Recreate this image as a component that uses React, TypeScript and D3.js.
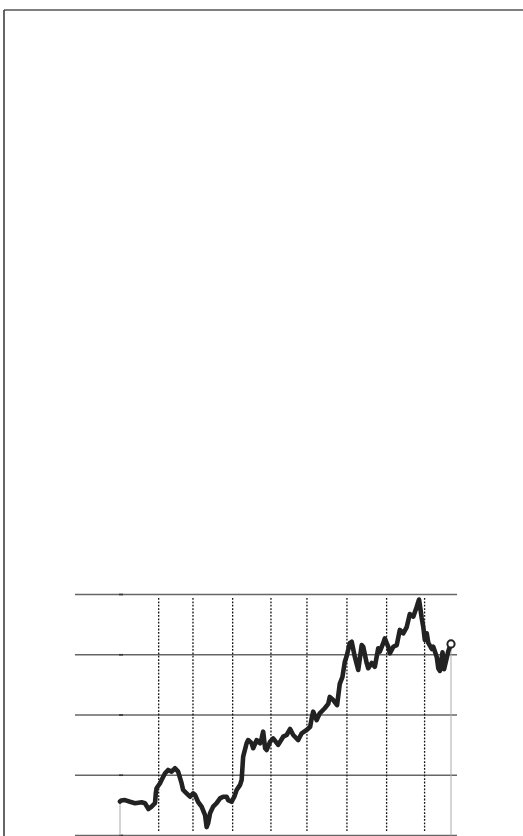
import React from "react";
import * as d3 from "d3";

// time in years since series start, value on a 0–100 scale
const times = [
  0, 0.03, 0.13, 0.26, 0.39, 0.48, 0.56, 0.65, 0.74, 0.82, 0.91, 0.93, 0.95, 1.04, 1.08, 1.17, 1.25, 1.34, 1.43, 1.51,
  1.6, 1.64, 1.73, 1.82, 1.9, 1.95, 2.03, 2.12, 2.21, 2.25, 2.29, 2.34, 2.42, 2.51, 2.6, 2.68, 2.77, 2.81, 2.9, 2.97,
  3.03, 3.12, 3.16, 3.2, 3.29, 3.33, 3.42, 3.46, 3.55, 3.64, 3.68, 3.72, 3.77, 3.81, 3.9, 3.98, 4.11, 4.24, 4.33, 4.42,
  4.5, 4.63, 4.72, 4.85, 4.94, 4.98, 5.02, 5.11, 5.19, 5.32, 5.41, 5.45, 5.54, 5.64, 5.71, 5.78, 5.84, 5.89, 5.97, 6.02,
  6.1, 6.19, 6.28, 6.32, 6.41, 6.45, 6.54, 6.62, 6.71, 6.75, 6.84, 6.88, 6.97, 7.01, 7.1, 7.19, 7.27, 7.36, 7.45, 7.53,
  7.62, 7.71, 7.77, 7.84, 7.88, 7.92, 7.97, 8.01, 8.1, 8.14, 8.23, 8.27, 8.31, 8.38, 8.42, 8.48, 8.53, 8.6,
];
const values = [
  14.1, 14.5, 14.7, 14.0, 13.4, 13.6, 13.8, 13.4, 11.0, 12.0, 13.4, 17.5, 19.6, 21.7, 23.0, 25.8, 27.2, 26.5, 27.9, 26.5,
  21.7, 18.9, 17.5, 16.1, 17.5, 16.8, 13.9, 12.0, 8.5, 3.5, 5.1, 9.2, 12.0, 13.4, 15.4, 16.1, 16.1, 14.7, 14.0, 16.1,
  18.9, 21.0, 23.0, 32.7, 38.3, 39.6, 38.3, 36.2, 39.6, 38.3, 40.3, 43.1, 36.2, 35.5, 38.9, 40.3, 37.6, 41.0, 41.7, 44.2,
  41.7, 39.6, 42.4, 43.8, 45.1, 48.6, 51.4, 47.9, 50.7, 52.8, 54.6, 57.5, 56.2, 54.1, 62.9, 65.8, 72.0, 74.5, 79.8, 80.4,
  74.2, 68.7, 79.0, 78.3, 71.5, 69.4, 71.6, 70.0, 77.7, 76.3, 79.8, 81.8, 78.3, 75.6, 78.3, 79.0, 85.3, 83.9, 86.5, 91.9,
  90.8, 94.9, 97.9, 90.2, 86.5, 81.1, 83.9, 79.9, 77.4, 78.3, 74.1, 69.4, 68.3, 76.0, 69.0, 73.0, 76.5, 79.5,
];
const markerTimes = [1.005, 1.896, 2.927, 3.922, 4.857, 5.896, 6.927, 7.914];
const yTicks = [0, 25, 50, 75, 100];

const W = 523;
const H = 836;
const plotLeft = 75;
const plotRight = 457;

export default function App() {
  const x = d3.scaleLinear().domain([0, 8.6]).range([120, 451]);
  const y = d3.scaleLinear().domain([0, 100]).range([835.5, 594.5]);
  const pts = times.map((t, i) => [t, values[i]] as [number, number]);
  const line = d3
    .line<[number, number]>()
    .x((d) => x(d[0]))
    .y((d) => y(d[1]));
  const first = pts[0];
  const last = pts[pts.length - 1];
  return (
    <svg
      width={W}
      height={H}
      style={{ position: "absolute", left: 0, top: 0, background: "#fff" }}
    >
      {/* frame */}
      <line x1={4} x2={W} y1={10} y2={10} stroke="#555" strokeWidth={1.5} />
      <line x1={4} x2={4} y1={10} y2={H} stroke="#333" strokeWidth={1.5} />
      {/* gridlines */}
      {yTicks.map((v) => (
        <g key={v}>
          <line x1={plotLeft} x2={plotRight} y1={y(v)} y2={y(v)} stroke="#666" strokeWidth={1.4} />
          <line x1={x(0) - 1} x2={x(0) + 3} y1={y(v)} y2={y(v)} stroke="#333" strokeWidth={1.6} />
        </g>
      ))}
      {/* event markers */}
      {markerTimes.map((t) => (
        <line
          key={t}
          x1={x(t)}
          x2={x(t)}
          y1={598}
          y2={831}
          stroke="#111"
          strokeWidth={1.3}
          strokeDasharray="1.8,1.6"
        />
      ))}
      {/* drop lines */}
      <line x1={x(first[0])} x2={x(first[0])} y1={y(first[1])} y2={y(0)} stroke="#aaa" strokeWidth={1} />
      <line x1={x(last[0])} x2={x(last[0])} y1={y(last[1])} y2={y(0)} stroke="#aaa" strokeWidth={1} />
      {/* series */}
      <path
        d={line(pts) || ""}
        fill="none"
        stroke="#222"
        strokeWidth={4.6}
        strokeLinejoin="round"
        strokeLinecap="round"
      />
      <circle cx={x(last[0])} cy={y(last[1])} r={3.6} fill="#fff" stroke="#222" strokeWidth={2} />
    </svg>
  );
}
